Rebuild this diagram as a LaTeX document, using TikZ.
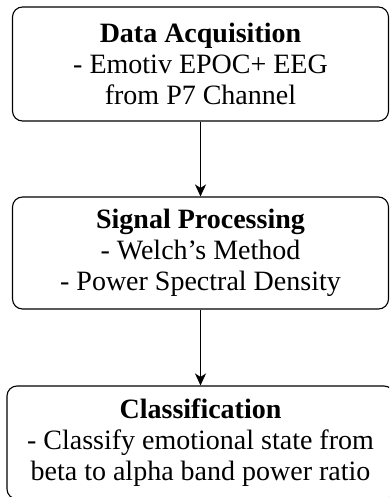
\documentclass[tikz,border=0pt]{standalone}
\usepackage{fontspec}
\setmainfont{Liberation Serif}
\usetikzlibrary{arrows.meta}
\begin{document}
\begin{tikzpicture}[x=1pt,y=-1pt,
  box/.style={draw, rounded corners=10pt, line width=1.1pt, align=center,
    font=\fontsize{28}{31}\selectfont, inner sep=0pt},
  link/.style={-{Stealth[length=12pt,width=11pt,inset=3.5pt]}, line width=1.5pt}]
\path[use as bounding box, clip] (0,0) rectangle (389,497);
\node[box, minimum width=376pt, minimum height=114pt] (acq) at (200.5,64)
  {\textbf{Data Acquisition}\\- Emotiv EPOC+ EEG\\from P7 Channel};
\node[box, minimum width=376pt, minimum height=112pt] (sig) at (200.5,253)
  {\textbf{Signal Processing}\\- Welch's Method\\- Power Spectral Density};
\node[box, minimum width=387pt, minimum height=113pt] (cls) at (200.5,442.5)
  {\textbf{Classification}\\- Classify emotional state from\\beta to alpha band power ratio};
\draw[link] (acq) -- (sig);
\draw[link] (sig) -- (cls);
\end{tikzpicture}
\end{document}
